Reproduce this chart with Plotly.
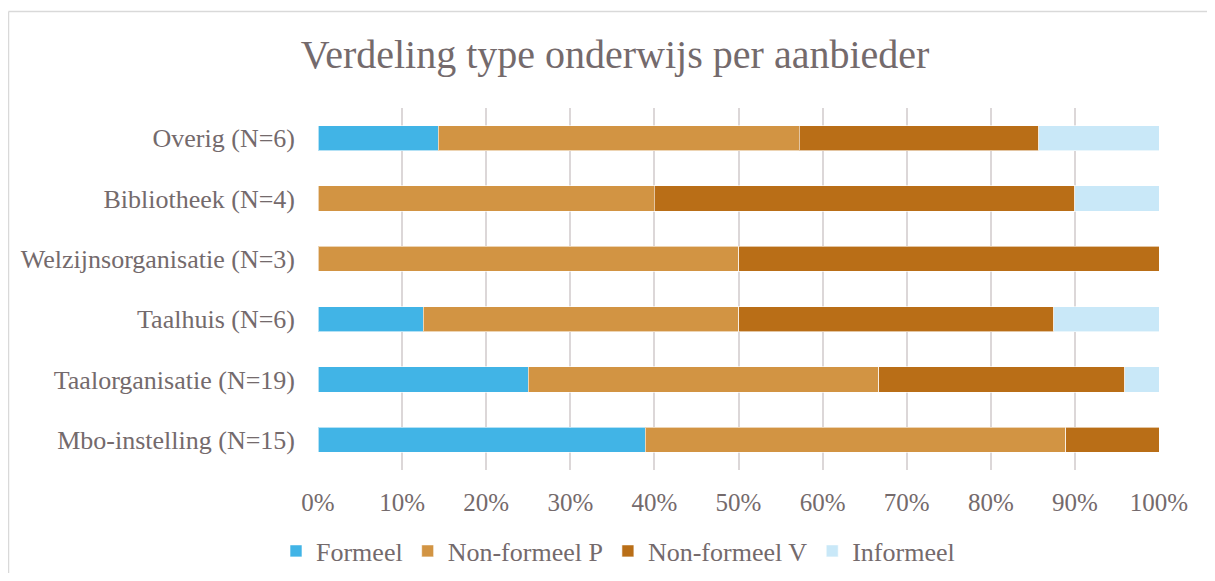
import plotly.graph_objects as go

categories = ["Mbo-instelling (N=15)", "Taalorganisatie (N=19)", "Taalhuis (N=6)",
              "Welzijnsorganisatie (N=3)", "Bibliotheek (N=4)", "Overig (N=6)"]
formeel = [38.9, 25.0, 12.5, 0.0, 0.0, 14.3]
non_formeel_p = [50.0, 41.7, 37.5, 50.0, 40.0, 42.9]
non_formeel_v = [11.1, 29.2, 37.5, 50.0, 50.0, 28.5]
informeel = [0.0, 4.1, 12.5, 0.0, 10.0, 14.3]
series_names = ["Formeel", "Non-formeel P", "Non-formeel V", "Informeel"]
colors = ["#41B4E6", "#D29443", "#B96E17", "#C9E8F8"]
tick_vals = [0, 10, 20, 30, 40, 50, 60, 70, 80, 90, 100]
tick_text = [f"{v}%" for v in tick_vals]

FONT = "Liberation Serif"
TXT = "#746a6c"

fig = go.Figure()
for name, vals, col in zip(series_names, [formeel, non_formeel_p, non_formeel_v, informeel], colors):
    fig.add_trace(go.Bar(
        y=categories, x=vals, name=name, orientation="h",
        marker=dict(color=col, line=dict(color="rgba(255,255,255,0.6)", width=1)),
    ))

# page has an 8px body margin on every side; keep the figure inside the window
OFF = 8
W, H = 1215 - 2 * OFF, 581 - 2 * OFF
L, R, T, B = 318 - OFF, W - (1159 - OFF), 108 - OFF, H - (470 - OFF)
pw, ph = W - L - R, H - T - B

def px_x(p):
    return (p - OFF - L) / pw

def px_y(p):
    return (H - B - (p - OFF)) / ph

frame = dict(color="#d9d9d9", width=1.5)
fig.update_layout(
    width=W, height=H,
    barmode="stack", bargap=0.585,
    margin=dict(l=L, r=R, t=T, b=B, autoexpand=False),
    paper_bgcolor="white", plot_bgcolor="white",
    font=dict(family=FONT, color=TXT, size=25),
    title=dict(text="Verdeling type onderwijs per aanbieder", x=(615 - OFF) / W, xanchor="center",
               y=1 - (54 - OFF) / H, yanchor="middle", font=dict(size=40, color=TXT, family=FONT)),
    xaxis=dict(range=[0, 100], tickvals=tick_vals, ticktext=tick_text, showgrid=True,
               gridcolor="#dcd7d8", gridwidth=1.5, zeroline=False, showline=False,
               ticks="", ticklabelstandoff=15, tickfont=dict(size=25, color=TXT, family=FONT),
               fixedrange=True),
    yaxis=dict(showgrid=False, zeroline=False, showline=False, ticks="",
               ticklabelstandoff=22, tickfont=dict(size=26, color=TXT, family=FONT),
               fixedrange=True),
    legend=dict(orientation="h", x=px_x(618), xanchor="center", y=px_y(551), yanchor="middle",
                font=dict(size=26, color=TXT, family=FONT), traceorder="normal",
                itemwidth=30, bgcolor="rgba(0,0,0,0)"),
    showlegend=True,
    shapes=[
        dict(type="line", xref="paper", yref="paper",
             x0=px_x(8.5), x1=px_x(1207), y0=px_y(11.5), y1=px_y(11.5), line=frame, layer="below"),
        dict(type="line", xref="paper", yref="paper",
             x0=px_x(8.5), x1=px_x(8.5), y0=px_y(11.5), y1=px_y(573), line=frame, layer="below"),
    ],
)

fig.write_html("out.html")
